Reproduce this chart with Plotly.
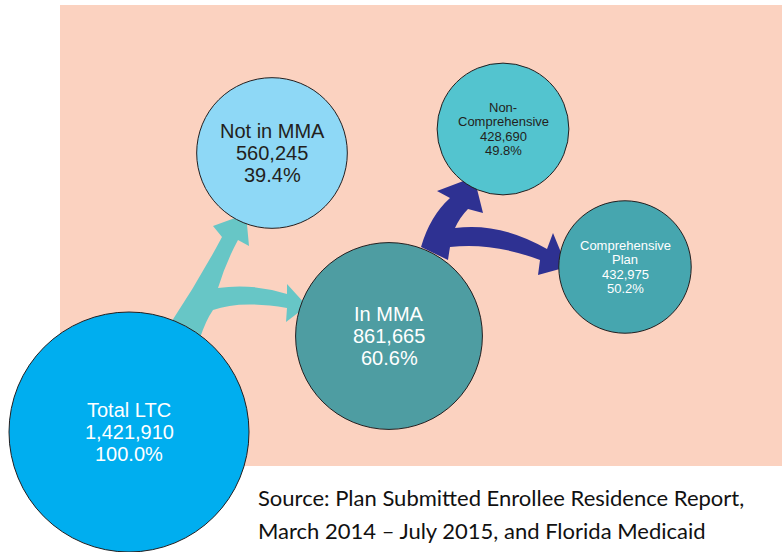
import plotly.graph_objects as go

# ---- data ----
labels = ["Total LTC", "Not in MMA", "In MMA", "Non-\nComprehensive", "Comprehensive\nPlan"]
enrollees = [1421910, 560245, 861665, 428690, 432975]
shares = [100.0, 39.4, 60.6, 49.8, 50.2]

# ---- layout / style (pixel space) ----
node_x = [129, 272, 389, 503, 625]
node_y = [432, 153, 336, 129, 267]
node_fill = ["#00AEEF", "#8ED8F6", "#4E9DA2", "#53C4CF", "#46A6AF"]
text_color = ["#FFFFFF", "#231F20", "#FFFFFF", "#231F20", "#FFFFFF"]
text_size = [20, 20, 20, 13, 13]
line_gap = [22.3, 22.3, 22.3, 14.5, 14.5]
max_diam = 240

W, H = 782, 552

fig = go.Figure()

sizeref = 2.0 * max(enrollees) / (max_diam ** 2)
fig.add_trace(go.Scatter(
    x=node_x, y=node_y, mode="markers",
    marker=dict(size=enrollees, sizemode="area", sizeref=sizeref,
                color=node_fill, opacity=1,
                line=dict(color="#231F20", width=1)),
    cliponaxis=False, hoverinfo="skip", showlegend=False,
))

shapes = [
    dict(type="rect", xref="x", yref="y", x0=60, x1=782, y0=5, y1=466,
         fillcolor="#FBD2C0", line=dict(width=0), layer="below"),
    # teal split arrow: Total LTC -> Not in MMA / In MMA
    dict(type="path", xref="x", yref="y", layer="below",
         fillcolor="#67C6C6", line=dict(width=0),
         path=("M 170 324 Q 198 282 222 237 L 213 226 L 246 214 L 249 246 L 238 240 "
               "Q 226 262 218 288 Q 252 283 287 294 L 287 284 L 307 306 L 286 322 L 287 308 "
               "Q 240 300 213 310 Q 206 320 200 338 Z")),
    # navy split arrow: In MMA -> Non-Comprehensive / Comprehensive
    dict(type="path", xref="x", yref="y", layer="below",
         fillcolor="#2E3192", line=dict(width=0),
         path=("M 421 247 Q 430 216 450 198 L 437 191 L 474 177 L 483 213 L 468 209 "
               "Q 460 217 455 228 Q 500 222 547 249 L 553 233 L 567 267 L 538 275 L 540 260 "
               "Q 492 242 450 247 Q 449 253 448 260 Z")),
]

annotations = []
for i, lab in enumerate(labels):
    lines = lab.split("\n") + [f"{enrollees[i]:,}", f"{shares[i]:.1f}%"]
    n = len(lines)
    for k, t in enumerate(lines):
        annotations.append(dict(
            x=node_x[i], y=node_y[i] + (k - (n - 1) / 2) * line_gap[i],
            xref="x", yref="y", text=t, showarrow=False,
            xanchor="center", yanchor="middle",
            font=dict(family="Liberation Sans, Arial", size=text_size[i], color=text_color[i]),
        ))

source_lines = ["Source: Plan Submitted Enrollee Residence Report,",
                "March 2014 \u2013 July 2015, and Florida Medicaid"]
for k, t in enumerate(source_lines):
    annotations.append(dict(
        x=256, y=497 + k * 33, xref="x", yref="y", text=t, showarrow=False,
        xanchor="left", yanchor="middle",
        font=dict(family="Lato, Open Sans", size=22, color="#111111"),
    ))

fig.update_layout(
    width=W, height=H, margin=dict(l=0, r=0, t=0, b=0),
    paper_bgcolor="white", plot_bgcolor="white",
    xaxis=dict(range=[0, W], visible=False, fixedrange=True),
    yaxis=dict(range=[H, 0], visible=False, fixedrange=True),
    shapes=shapes, annotations=annotations,
)

fig.write_html(
    "out.html",
    config={"displayModeBar": False},
    post_script="document.body.style.margin='0';document.body.style.overflow='hidden';",
)
